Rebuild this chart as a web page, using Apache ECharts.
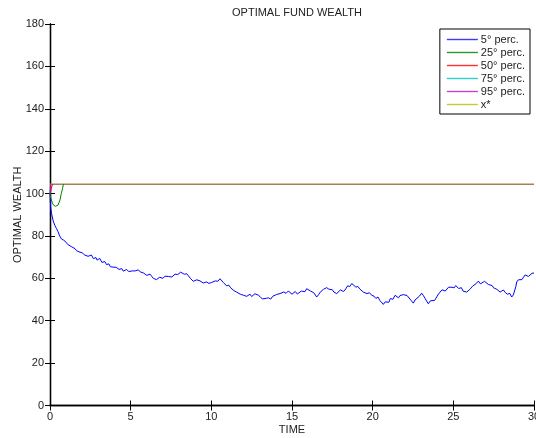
<!DOCTYPE html>
<html>
<head>
<meta charset="utf-8">
<script src="https://cdn.jsdelivr.net/npm/echarts@6/dist/echarts.min.js"></script>
<style>
  html, body { margin: 0; padding: 0; background: #fff; }
  #chart { width: 536px; height: 438px; }
</style>
</head>
<body>
<div id="chart"></div>
<script>
  // time grid and wealth values
  var p5Time = [0, 0.02, 0.05, 0.1, 0.2, 0.3, 0.4, 0.5, 0.6, 0.72, 0.85,
    1.0, 1.1, 1.2, 1.32, 1.44, 1.55, 1.65, 1.72, 1.8, 1.9, 2.0, 2.08, 2.15, 2.27, 2.36, 2.45, 2.57, 2.69, 2.77, 2.85, 2.92,
    3.0, 3.08, 3.15, 3.22, 3.3, 3.4, 3.5, 3.58, 3.65, 3.74, 3.82, 3.9, 4.0, 4.1, 4.2, 4.28, 4.35, 4.45, 4.54, 4.65, 4.75, 4.88,
    5.0, 5.1, 5.2, 5.28, 5.37, 5.48, 5.6, 5.7, 5.8, 5.9, 6.0, 6.1, 6.2, 6.3, 6.4, 6.5, 6.6, 6.7, 6.8, 6.9,
    7.0, 7.12, 7.23, 7.35, 7.45, 7.55, 7.65, 7.75, 7.85, 7.92, 8.0, 8.1, 8.2, 8.33, 8.47, 8.58, 8.7, 8.8, 8.88,
    9.0, 9.1, 9.2, 9.3, 9.4, 9.5, 9.6, 9.71, 9.85, 10.0, 10.12, 10.25, 10.4, 10.54, 10.65, 10.75, 10.85, 10.95,
    11.08, 11.2, 11.3, 11.4, 11.48, 11.57, 11.68, 11.8, 11.9, 12.0, 12.1, 12.19, 12.3, 12.4, 12.5, 12.6, 12.7, 12.8, 12.92,
    13.05, 13.18, 13.3, 13.42, 13.55, 13.68, 13.8, 13.92, 14.05, 14.15, 14.26, 14.38, 14.5, 14.63, 14.77, 14.88,
    15.0, 15.1, 15.2, 15.33, 15.45, 15.58, 15.7, 15.8, 15.91, 16.03, 16.15, 16.25, 16.35, 16.45, 16.53, 16.65, 16.75, 16.85, 16.95,
    17.05, 17.15, 17.28, 17.4, 17.5, 17.6, 17.7, 17.77, 17.88, 18.0, 18.1, 18.2, 18.33, 18.45, 18.58, 18.7, 18.83, 18.95,
    19.08, 19.2, 19.3, 19.42, 19.53, 19.65, 19.8, 19.94, 20.08, 20.2, 20.33, 20.45, 20.55, 20.66, 20.78, 20.9,
    21.0, 21.1, 21.25, 21.39, 21.5, 21.6, 21.7, 21.8, 21.9, 22.01, 22.13, 22.25, 22.38, 22.52, 22.63, 22.75, 22.9,
    23.04, 23.15, 23.25, 23.35, 23.45, 23.58, 23.7, 23.84, 23.97, 24.08, 24.2, 24.3, 24.38, 24.5, 24.6, 24.7, 24.8, 24.92,
    25.05, 25.15, 25.25, 25.33, 25.42, 25.5, 25.6, 25.72, 25.83, 25.95, 26.05, 26.18, 26.3, 26.43, 26.55, 26.68, 26.8, 26.93,
    27.05, 27.17, 27.28, 27.4, 27.5, 27.6, 27.7, 27.8, 27.9, 28.0, 28.1, 28.22, 28.35, 28.5, 28.62, 28.72, 28.8, 28.87, 28.93,
    29.03, 29.14, 29.25, 29.35, 29.45, 29.55, 29.65, 29.75, 29.88, 30];
  var p5Wealth = [100, 96, 93, 90.5, 87, 85, 83.5, 82, 80, 78.5, 78,
    77, 76, 76.5, 75, 75.5, 74, 73, 73.8, 72.5, 73, 72, 72.6, 71, 71.5, 70.4, 70.5, 71, 69.3, 70.2, 69.8, 68.6,
    68.5, 69.4, 68.8, 67.5, 67.7, 67.9, 66.5, 67.4, 66.8, 65.5, 64.6, 65.3, 64.5, 65.2, 65, 64.2, 64, 64.6, 63.4, 63.9, 64.2, 63.2,
    63.8, 63.5, 64.3, 63.5, 63.4, 64, 63, 63.4, 62.5, 62.8, 61.4, 62.3, 62, 61, 60, 60.5, 59.4, 60.2, 60.5, 59.6,
    60, 61, 60.3, 60.9, 61.5, 60.6, 61, 62, 62.5, 61.8, 62, 62.9, 62.6, 61.9, 62.2, 61.2, 60, 59.4, 58.6,
    59.5, 59.3, 58.4, 58.8, 58.2, 57.8, 58.7, 58.3, 57.6, 58, 58.4, 58.8, 58.6, 59.8, 59, 58, 57.2, 56.4,
    56.8, 55.5, 55.9, 54.2, 54.6, 53.5, 53.9, 52.5, 53.2, 52, 52.6, 51.5, 51.9, 52.5, 51.4, 51.8, 52.7, 53, 52.1,
    51, 50.3, 49.6, 50.6, 50.8, 50.2, 51.5, 51.1, 52.4, 51.8, 52.8, 52.3, 53.6, 52.9, 54, 53.2,
    52.5, 53.4, 53.8, 52.6, 53, 54, 54.5, 53.7, 55.1, 54.6, 54, 54.4, 53.2, 52.4, 51.2, 52.3, 53.5, 53, 54.8,
    54.2, 55.6, 54.9, 54, 54.6, 53.5, 53.9, 52.8, 53.4, 54.5, 53.6, 53.8, 55, 56.5, 56.1, 57.5, 56.8, 55.8,
    56.2, 55, 54.2, 53.5, 54.1, 52.8, 53.2, 52, 51.6, 50.5, 51.2, 49.5, 49.9, 47.7, 48.9, 49.5,
    48.7, 50.5, 50.1, 52, 51.2, 50.8, 51.9, 51.5, 52.3, 52.8, 51.9, 51, 49.6, 48.3, 49.8, 50.5, 51.6,
    53, 51.8, 50.5, 49.2, 48, 49.4, 50, 49.6, 51.2, 52.6, 53.5, 54.6, 55.1, 54, 54.5, 55.8, 56.7, 55.8,
    55.5, 56.6, 56.2, 55.2, 55.1, 55.6, 54, 54.6, 53.5, 54.2, 55, 56.2, 57, 57.6, 58.7, 57.4, 57.8, 58.6,
    58.2, 57.1, 57.5, 56.6, 55.5, 56.1, 54.8, 54.2, 53.5, 54.4, 54.5, 53.3, 52.5, 52.9, 51.2, 52.2, 53, 56, 58.3,
    59.3, 59.9, 59.4, 60.5, 61.6, 61.8, 60.9, 61, 62.4, 62.5];

  var p25Time = [0, 0.05, 0.15, 0.22, 0.35, 0.5, 0.55, 0.62, 0.7, 0.78, 0.83];
  var p25Wealth = [100, 97.8, 95.5, 94.5, 94, 94.6, 95.4, 97, 100, 102.5, 104.4];
  var p50Time = [0, 0.04, 0.08, 0.12, 0.16];
  var p50Wealth = [100, 101, 102.5, 103.5, 104.4];
  var p75Time = [0, 0.03, 0.06];
  var p75Wealth = [100, 102.5, 104.4];
  var p95Time = [0, 0.02, 0.04];
  var p95Wealth = [100, 102, 104.4];
  var xStarTime = [0, 30];
  var xStarWealth = [104.4, 104.4];

  var names = ['5\u00b0 perc.', '25\u00b0 perc.', '50\u00b0 perc.', '75\u00b0 perc.', '95\u00b0 perc.', 'x*'];

  function pairs(t, v) {
    var out = [];
    for (var i = 0; i < t.length; i++) out.push([t[i], v[i]]);
    return out;
  }

  var font = "'Liberation Sans', Arial, sans-serif";
  var chart = echarts.init(document.getElementById('chart'));

  function lineSeries(name, t, v, color, width) {
    return {
      name: name,
      type: 'line',
      data: pairs(t, v),
      showSymbol: false,
      symbol: 'none',
      animation: false,
      color: color,
      lineStyle: { width: width || 1, color: color }
    };
  }

  var axisCommon = {
    axisLine: { show: true, lineStyle: { color: '#000', width: 1.3 } },
    axisTick: { show: true, inside: true, length: 5, lineStyle: { color: '#000', width: 1 } },
    splitLine: { show: false }
  };

  var legendLine = ['#3c3cff', '#2e962e', '#ff3030', '#30cccc', '#cc40cc', '#c8c830'];

  var option = {
    animation: false,
    backgroundColor: '#fff',
    textStyle: { fontFamily: font },
    title: {
      text: 'OPTIMAL FUND WEALTH',
      left: 292,
      textAlign: 'center',
      top: 2,
      textStyle: { fontSize: 11, fontWeight: 'normal', color: '#222', fontFamily: font }
    },
    grid: { left: 50, right: 2, top: 24, bottom: 32.5, outerBoundsMode: 'none', containLabel: false },
    legend: {
      orient: 'vertical',
      right: 6,
      top: 29,
      padding: [4, 5, 3, 7],
      icon: 'rect',
      itemWidth: 31,
      itemHeight: 1.4,
      itemGap: 0,
      backgroundColor: '#fff',
      borderColor: '#000',
      borderWidth: 1,
      borderRadius: 0,
      textStyle: { fontSize: 11, lineHeight: 13, color: '#222', fontFamily: font, padding: [0, 0, 0, -2] },
      data: names.map(function (n, i) {
        return { name: n, itemStyle: { color: legendLine[i] } };
      })
    },
    xAxis: [
      Object.assign({
        type: 'value', min: 0, max: 30, interval: 5, position: 'bottom',
        name: 'TIME', nameLocation: 'middle', nameGap: 19, nameMoveOverlap: false,
        nameTextStyle: { fontSize: 11, color: '#222', fontFamily: font },
        axisLabel: { fontSize: 11, color: '#222', margin: 6, fontFamily: font, showMaxLabel: true }
      }, axisCommon),
      Object.assign({
        type: 'value', min: 0, max: 30, interval: 5, position: 'top',
        axisLabel: { show: false }
      }, axisCommon)
    ],
    yAxis: [
      Object.assign({
        type: 'value', min: 0, max: 180, interval: 20, position: 'left',
        name: 'OPTIMAL WEALTH', nameLocation: 'middle', nameGap: 27, nameMoveOverlap: false,
        nameTextStyle: { fontSize: 11, color: '#222', fontFamily: font },
        axisLabel: { fontSize: 11, color: '#222', margin: 6, fontFamily: font }
      }, axisCommon),
      Object.assign({
        type: 'value', min: 0, max: 180, interval: 20, position: 'right',
        axisLabel: { show: false }
      }, axisCommon)
    ],
    series: [
      lineSeries(names[5], xStarTime, xStarWealth, '#a3834f', 1.6),
      lineSeries(names[0], p5Time, p5Wealth, '#0000ff'),
      lineSeries(names[1], p25Time, p25Wealth, '#008000'),
      lineSeries(names[2], p50Time, p50Wealth, '#ff0000'),
      lineSeries(names[3], p75Time, p75Wealth, '#00bfbf'),
      lineSeries(names[4], p95Time, p95Wealth, '#bf00bf')
    ]
  };
  chart.setOption(option);
</script>
</body>
</html>
